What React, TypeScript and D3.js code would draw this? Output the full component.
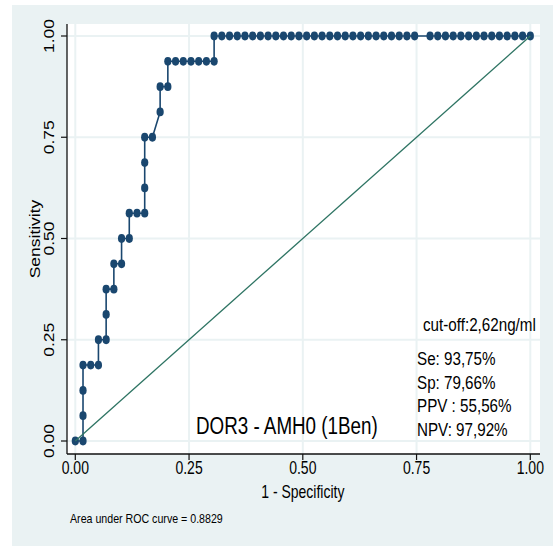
import React from "react";
import * as d3 from "d3";

// ROC points: counts of false positives (out of 59 negatives) and true positives (out of 16 positives)
const nNeg = 59;
const nPos = 16;
const fpCounts = [
  0, 1, 1, 1, 1, 2, 3, 3, 4, 4, 4, 5, 5, 6, 6, 7, 7, 8, 9, 9, 9, 9, 10, 11, 11, 12, 12,
  13, 14, 15, 16, 17, 18, 18,
  19, 20, 21, 22, 23, 24, 25, 26, 27, 28, 29, 30, 31, 32, 33, 34, 35, 36, 37, 38, 39, 40,
  41, 42, 43, 44,
  46, 47, 48, 49, 50, 51, 52, 53, 54, 55, 56, 57, 58, 59,
];
const tpCounts = [
  0, 0, 1, 2, 3, 3, 3, 4, 4, 5, 6, 6, 7, 7, 8, 8, 9, 9, 9, 10, 11, 12, 12, 13, 14, 14, 15,
  15, 15, 15, 15, 15, 15, 16,
  16, 16, 16, 16, 16, 16, 16, 16, 16, 16, 16, 16, 16, 16, 16, 16, 16, 16, 16, 16, 16, 16,
  16, 16, 16, 16,
  16, 16, 16, 16, 16, 16, 16, 16, 16, 16, 16, 16, 16, 16,
];
const tickValues = [0, 0.25, 0.5, 0.75, 1];
const tickLabels = ["0.00", "0.25", "0.50", "0.75", "1.00"];
const annotationLines = ["Se: 93,75%", "Sp: 79,66%", "PPV : 55,56%", "NPV: 97,92%"];
const cutoffText = "cut-off:2,62ng/ml";
const titleText = "DOR3 - AMH0 (1Ben)";
const aucText = "Area under ROC curve = 0.8829";

const W = 553;
const H = 548;
const BG = "#eaf2f3";
const NAVY = "#1a476f";
const GREEN = "#2e7463";
const FONT = "'Liberation Sans', Arial, sans-serif";
const SX = 0.8;

const plot = { left: 67, right: 540, top: 24, bottom: 454 };

function T({ x, y, size, anchor = "start", rot = false, children }: any) {
  return (
    <text
      transform={`translate(${x},${y}) scale(${SX},1)${rot ? " rotate(-90)" : ""}`}
      fontSize={size}
      textAnchor={anchor}
      fontFamily={FONT}
      fill="#000"
    >
      {children}
    </text>
  );
}

export default function App() {
  const x = d3.scaleLinear().domain([0, 1]).range([75.3, 530.3]);
  const y = d3.scaleLinear().domain([0, 1]).range([441, 36]);
  const pts = fpCounts.map((f, i) => [f / nNeg, tpCounts[i] / nPos] as [number, number]);
  const line = d3
    .line<[number, number]>()
    .x((d) => x(d[0]))
    .y((d) => y(d[1]));

  return (
    <svg
      width={W}
      height={H}
      style={{ position: "absolute", left: 0, top: 0 }}
      xmlns="http://www.w3.org/2000/svg"
    >
      <rect x={0} y={0} width={W} height={H} fill="#fff" />
      <rect x={12} y={5} width={541} height={541} fill={BG} />
      <rect
        x={plot.left}
        y={plot.top}
        width={plot.right - plot.left}
        height={plot.bottom - plot.top}
        fill="#fff"
      />
      {/* grid */}
      {tickValues.map((t) => (
        <g key={"g" + t}>
          <line x1={x(t)} x2={x(t)} y1={plot.top} y2={plot.bottom} stroke={BG} strokeWidth={2} />
          <line x1={plot.left} x2={plot.right} y1={y(t)} y2={y(t)} stroke={BG} strokeWidth={2} />
        </g>
      ))}
      {/* axes */}
      <line x1={plot.left} x2={plot.left} y1={plot.top} y2={plot.bottom} stroke="#111" strokeWidth={1.3} />
      <line x1={plot.left} x2={plot.right} y1={plot.bottom} y2={plot.bottom} stroke="#111" strokeWidth={1.3} />
      {tickValues.map((t, i) => (
        <g key={"t" + t}>
          <line x1={plot.left - 6} x2={plot.left} y1={y(t)} y2={y(t)} stroke="#111" strokeWidth={1.2} />
          <line x1={x(t)} x2={x(t)} y1={plot.bottom} y2={plot.bottom + 6} stroke="#111" strokeWidth={1.2} />
          <T x={54} y={y(t)} size={17.5} anchor="middle" rot>
            {tickLabels[i]}
          </T>
          <T x={x(t)} y={474} size={17.5} anchor="middle">
            {tickLabels[i]}
          </T>
        </g>
      ))}
      <T x={40} y={(plot.top + plot.bottom) / 2} size={17.5} anchor="middle" rot>
        Sensitivity
      </T>
      <T x={x(0.5)} y={498} size={17.5} anchor="middle">
        1 - Specificity
      </T>
      <T x={70} y={523} size={13.3} anchor="start">
        {aucText}
      </T>
      {/* ROC curve */}
      <path d={line(pts) || ""} fill="none" stroke={NAVY} strokeWidth={1.6} />
      {pts.map((p, i) => (
        <ellipse key={"p" + i} cx={x(p[0])} cy={y(p[1])} rx={3.6} ry={4.4} fill={NAVY} />
      ))}
      {/* reference line */}
      <path d={line([[0, 0], [1, 1]]) || ""} fill="none" stroke={GREEN} strokeWidth={1.3} />
      {/* annotations */}
      <T x={423} y={331} size={19}>
        {cutoffText}
      </T>
      {annotationLines.map((s, i) => (
        <T key={s} x={417} y={365 + i * 23.6} size={19}>
          {s}
        </T>
      ))}
      <T x={196} y={434} size={23.5}>
        {titleText}
      </T>
    </svg>
  );
}
